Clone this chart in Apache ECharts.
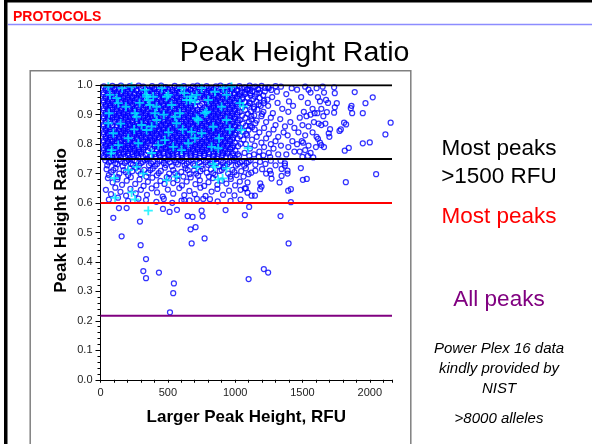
<!DOCTYPE html>
<html><head><meta charset="utf-8">
<script src="https://cdn.jsdelivr.net/npm/echarts@6/dist/echarts.min.js"></script>
<style>html,body{margin:0;padding:0;background:#fff}#c{width:592px;height:444px}</style>
</head><body><div id="c"></div>
<script>
// ---- data (RFU of larger peak, peak height ratio) ----
const xTickLabels = ['0','500','1000','1500','2000'];
const refLevels = [1.0, 0.75, 0.6, 0.217];
const refColors = ['#000000','#000000','#ff0000','#800080'];

const denseCircles = [
[25,.996],[55,.991],[88,.998],[119,.994],[152,.999],[186,.992],[217,.997],[250,.993],[284,.999],[318,.995],[350,.990],[383,.997],[417,.993],[450,.999],[484,.994],[517,.991],[551,.998],[585,.993],[618,.997],[652,.991],[686,.996],[720,.999],[753,.993],[788,.997],[822,.991],[857,.996],[891,.999],[926,.994],[960,.998],[995,.992],[1032,.997],[1070,.993],[1108,.999],[1150,.995],[1196,.998],[1245,.993],[1300,.997],
[38,.984],[72,.979],[104,.985],[136,.980],[170,.983],[203,.978],[236,.986],[268,.981],[301,.977],[334,.984],[367,.980],[400,.986],[434,.979],[468,.983],[501,.987],[534,.978],[568,.982],[601,.986],[635,.979],[669,.984],[703,.980],[737,.985],[771,.978],[805,.983],[839,.987],[873,.979],[908,.984],[942,.980],[977,.986],[1013,.981],[1050,.977],[1089,.984],[1128,.980],[1172,.985],[1220,.979],[1268,.984],
[22,.969],[54,.965],[87,.971],[120,.966],[153,.970],[186,.964],[219,.972],[252,.967],[285,.963],[318,.970],[351,.966],[384,.972],[417,.965],[451,.969],[484,.973],[517,.964],[551,.968],[584,.972],[618,.965],[652,.970],[686,.966],[720,.971],[754,.964],[788,.969],[822,.973],[856,.965],[890,.970],[925,.966],[960,.972],[996,.967],[1034,.963],[1074,.970],[1115,.965],[1160,.971],[1208,.966],
[37,.956],[70,.951],[103,.958],[136,.953],[169,.957],[202,.950],[235,.956],[268,.952],[301,.958],[334,.953],[368,.949],[401,.956],[434,.952],[467,.958],[500,.954],[534,.950],[567,.957],[601,.952],[635,.958],[669,.951],[703,.955],[737,.959],[771,.952],[805,.956],[839,.950],[873,.957],[907,.953],[942,.958],[977,.951],[1014,.956],[1052,.952],[1092,.958],[1135,.953],[1182,.957],[1240,.951],
[24,.942],[56,.938],[89,.944],[121,.939],[154,.943],[187,.937],[220,.945],[253,.940],[286,.936],[319,.943],[352,.939],[385,.945],[418,.938],[452,.942],[485,.946],[518,.937],[552,.941],[585,.945],[619,.938],[653,.943],[687,.939],[721,.944],[755,.937],[789,.942],[823,.946],[857,.938],[891,.943],[926,.939],[961,.945],[997,.940],[1033,.936],[1072,.943],[1113,.938],[1158,.944],[1212,.939],
[40,.929],[72,.924],[105,.931],[138,.926],[171,.930],[204,.923],[237,.929],[270,.925],[303,.931],[336,.926],[369,.922],[402,.929],[435,.925],[468,.931],[501,.927],[535,.923],[568,.930],[602,.925],[636,.931],[670,.924],[704,.928],[738,.932],[772,.925],[806,.929],[840,.923],[874,.930],[908,.926],[943,.931],[979,.924],[1016,.929],[1055,.925],[1096,.931],[1140,.926],[1190,.930],
[23,.915],[55,.911],[88,.917],[120,.912],[153,.916],[186,.910],[219,.918],[252,.913],[285,.909],[318,.916],[351,.912],[384,.918],[417,.911],[451,.915],[484,.919],[517,.910],[551,.914],[584,.918],[618,.911],[652,.916],[686,.912],[720,.917],[754,.910],[788,.915],[822,.919],[856,.911],[890,.916],[925,.912],[960,.918],[996,.913],[1034,.909],[1075,.916],[1118,.911],[1165,.917],
[39,.901],[71,.896],[104,.903],[137,.898],[170,.902],[203,.895],[236,.901],[269,.897],[302,.903],[335,.898],[368,.894],[401,.901],[434,.897],[467,.903],[500,.899],[534,.895],[567,.902],[601,.897],[635,.903],[669,.896],[703,.900],[737,.904],[771,.897],[805,.901],[839,.895],[873,.902],[907,.898],[942,.903],[978,.896],[1015,.901],[1053,.897],[1095,.903],[1142,.898],[1200,.902],
[24,.888],[56,.884],[89,.890],[121,.885],[154,.889],[187,.883],[220,.891],[253,.886],[286,.882],[319,.889],[352,.885],[385,.891],[418,.884],[452,.888],[485,.892],[518,.883],[552,.887],[585,.891],[619,.884],[653,.889],[687,.885],[721,.890],[755,.883],[789,.888],[823,.892],[857,.884],[891,.889],[926,.885],[961,.891],[997,.886],[1035,.882],[1076,.889],[1120,.884],
[40,.874],[72,.869],[105,.876],[138,.871],[171,.875],[204,.868],[237,.874],[270,.870],[303,.876],[336,.871],[369,.867],[402,.874],[435,.870],[468,.876],[501,.872],[535,.868],[568,.875],[602,.870],[636,.876],[670,.869],[704,.873],[738,.877],[772,.870],[806,.874],[840,.868],[874,.875],[908,.871],[943,.876],[979,.869],[1017,.874],[1058,.870],[1102,.876],[1150,.871],
[23,.861],[55,.857],[88,.863],[120,.858],[153,.862],[186,.856],[219,.864],[252,.859],[285,.855],[318,.862],[351,.858],[384,.864],[417,.857],[451,.861],[484,.865],[517,.856],[551,.860],[584,.864],[618,.857],[652,.862],[686,.858],[720,.863],[754,.856],[788,.861],[822,.865],[856,.857],[890,.862],[925,.858],[960,.864],[996,.859],[1036,.855],[1080,.862],[1125,.857],
[39,.847],[71,.842],[104,.849],[137,.844],[170,.848],[203,.841],[236,.847],[269,.843],[302,.849],[335,.844],[368,.840],[401,.847],[434,.843],[467,.849],[500,.845],[534,.841],[567,.848],[601,.843],[635,.849],[669,.842],[703,.846],[737,.850],[771,.843],[805,.847],[839,.841],[873,.848],[907,.844],[942,.849],[978,.842],[1016,.847],[1057,.843],[1100,.849],
[24,.834],[56,.830],[89,.836],[121,.831],[154,.835],[187,.829],[220,.837],[253,.832],[286,.828],[319,.835],[352,.831],[385,.837],[418,.830],[452,.834],[485,.838],[518,.829],[552,.833],[585,.837],[619,.830],[653,.835],[687,.831],[721,.836],[755,.829],[789,.834],[823,.838],[857,.830],[891,.835],[926,.831],[961,.837],[997,.832],[1038,.828],[1082,.835],
[40,.820],[72,.815],[105,.822],[138,.817],[171,.821],[204,.814],[237,.820],[270,.816],[303,.822],[336,.817],[369,.813],[402,.820],[435,.816],[468,.822],[501,.818],[535,.814],[568,.821],[602,.816],[636,.822],[670,.815],[704,.819],[738,.823],[772,.816],[806,.820],[840,.814],[874,.821],[908,.817],[943,.822],[979,.815],[1018,.820],[1062,.816],
[23,.807],[55,.803],[88,.809],[120,.804],[153,.808],[186,.802],[219,.810],[252,.805],[285,.801],[318,.808],[351,.804],[384,.810],[417,.803],[451,.807],[484,.811],[517,.802],[551,.806],[584,.810],[618,.803],[652,.808],[686,.804],[720,.809],[754,.802],[788,.807],[822,.811],[856,.803],[890,.808],[925,.804],[960,.810],[998,.805],[1040,.801],
[39,.793],[71,.788],[104,.795],[137,.790],[170,.794],[203,.787],[236,.793],[269,.789],[302,.795],[335,.790],[368,.786],[401,.793],[434,.789],[467,.795],[500,.791],[534,.787],[567,.794],[601,.789],[635,.795],[669,.788],[703,.792],[737,.796],[771,.789],[805,.793],[839,.787],[873,.794],[907,.790],[942,.795],[980,.788],[1022,.793],
[24,.780],[56,.776],[89,.782],[121,.777],[154,.781],[187,.775],[220,.783],[253,.778],[286,.774],[319,.781],[352,.777],[385,.783],[418,.776],[452,.780],[485,.784],[518,.775],[552,.779],[585,.783],[619,.776],[653,.781],[687,.777],[721,.782],[755,.775],[789,.780],[823,.784],[857,.776],[891,.781],[926,.777],[963,.783],[1002,.778],
[40,.766],[72,.762],[105,.768],[138,.763],[171,.767],[204,.761],[237,.766],[270,.762],[303,.768],[336,.763],[369,.760],[402,.766],[435,.762],[468,.768],[501,.764],[535,.760],[568,.767],[602,.762],[636,.768],[670,.761],[704,.765],[738,.769],[772,.762],[806,.766],[840,.760],[874,.767],[908,.763],[943,.768],[981,.761],[1020,.766],
[28,.755],[90,.753],[150,.756],[215,.752],[280,.755],[345,.751],[410,.756],[475,.753],[540,.755],[605,.752],[670,.756],[735,.753],[800,.755],[865,.751],[930,.756],[995,.753]
];

const denseCirclesFill = [
[41,.989],[74,.986],[105,.990],[137,.987],[170,.991],[203,.985],[235,.989],[267,.986],[300,.990],[334,.987],[367,.984],[400,.990],[433,.986],[467,.991],[500,.987],[534,.984],[568,.990],[601,.986],[635,.991],[669,.985],[703,.989],[737,.992],[770,.986],[805,.990],[840,.984],[874,.989],[908,.992],[943,.987],[978,.990],[1012,.985],[1050,.990],[1090,.987],[1130,.992],[1172,.988],[1222,.991],
[22,.976],[55,.972],[88,.977],[121,.973],[153,.976],[187,.971],[220,.978],[252,.974],[285,.970],[318,.977],[351,.973],[384,.978],[417,.972],[451,.976],[485,.979],[518,.971],[551,.975],[585,.979],[619,.972],[652,.977],[686,.973],[720,.978],[754,.971],[788,.976],[822,.979],[856,.972],[891,.977],[925,.973],[960,.978],[996,.974],[1032,.970],[1072,.977],[1112,.973],
[38,.962],[71,.958],[104,.964],[137,.959],[170,.963],[203,.957],[236,.962],[269,.958],[302,.964],[335,.959],[368,.956],[401,.962],[434,.958],[468,.964],[501,.960],[535,.956],[568,.963],[602,.958],[636,.964],[670,.957],[704,.961],[738,.965],[772,.958],[806,.962],[840,.956],[874,.963],[908,.959],[943,.964],[979,.957],[1015,.962],[1055,.958],
[22,.949],[54,.945],[87,.951],[120,.946],[153,.950],[186,.944],[219,.951],[252,.947],[285,.943],[318,.950],[351,.946],[384,.951],[417,.944],[451,.948],[484,.952],[517,.944],[551,.948],[584,.952],[618,.945],[652,.950],[686,.946],[788,.949],[822,.952],[856,.945],[890,.950],[925,.946],[960,.951],[996,.947],[1036,.943],
[39,.935],[71,.931],[104,.937],[137,.932],[170,.936],[203,.930],[236,.935],[269,.931],[302,.937],[335,.932],[368,.929],[401,.935],[434,.931],[467,.937],[500,.933],[534,.929],[567,.936],[601,.931],[635,.937],[669,.930],[805,.935],[839,.929],[873,.936],[907,.932],[942,.937],[978,.930],[1015,.935],
[23,.922],[55,.918],[88,.924],[120,.919],[153,.923],[186,.917],[219,.924],[252,.920],[285,.916],[318,.923],[351,.919],[384,.924],[417,.917],[451,.921],[484,.925],[517,.917],[551,.921],[584,.925],[618,.918],[652,.923],[686,.919],[754,.917],[788,.922],[822,.925],[856,.918],[890,.923],[925,.919],[960,.924],[998,.920],
[40,.908],[72,.904],[105,.910],[138,.905],[171,.909],[204,.903],[237,.908],[270,.904],[303,.910],[336,.905],[369,.902],[402,.908],[435,.904],[468,.910],[501,.906],[535,.902],[568,.909],[602,.904],[636,.910],[670,.903],[704,.907],[738,.911],[772,.904],[806,.908],[840,.902],[874,.909],[908,.905],[943,.910],[979,.903],[1018,.908],
[23,.895],[55,.891],[88,.897],[120,.892],[153,.896],[186,.890],[219,.897],[252,.893],[285,.889],[318,.896],[351,.892],[384,.897],[417,.890],[451,.894],[484,.898],[517,.890],[551,.894],[584,.898],[618,.891],[652,.896],[686,.892],[720,.897],[754,.890],[788,.895],[822,.898],[856,.891],[890,.896],[925,.892],[960,.897],[998,.893],
[40,.881],[72,.877],[105,.883],[138,.878],[171,.882],[204,.876],[237,.881],[270,.877],[303,.883],[336,.878],[369,.875],[402,.881],[435,.877],[468,.883],[501,.879],[535,.875],[568,.882],[602,.877],[636,.883],[670,.876],[704,.880],[738,.884],[772,.877],[806,.881],[840,.875],[874,.882],[908,.878],[943,.883],[979,.876],[1020,.881],
[23,.867],[55,.863],[120,.864],[153,.868],[186,.862],[219,.869],[252,.865],[285,.861],[318,.868],[351,.864],[384,.869],[417,.862],[451,.866],[484,.870],[517,.862],[551,.866],[584,.870],[618,.863],[652,.868],[686,.864],[720,.869],[754,.862],[788,.867],[822,.870],[856,.863],[890,.868],[925,.864],[960,.869],[1000,.865],
[40,.854],[72,.850],[138,.851],[171,.855],[204,.849],[237,.854],[270,.850],[303,.856],[336,.851],[369,.848],[402,.854],[435,.850],[468,.856],[501,.852],[535,.848],[568,.855],[602,.850],[636,.856],[670,.849],[704,.853],[738,.857],[772,.850],[806,.854],[840,.848],[874,.855],[908,.851],[943,.856],[980,.849],[1022,.854],
[23,.841],[55,.837],[88,.843],[120,.838],[153,.842],[186,.836],[219,.843],[252,.839],[285,.835],[318,.842],[351,.838],[384,.843],[417,.836],[451,.840],[484,.844],[517,.836],[551,.840],[584,.844],[618,.837],[652,.842],[686,.838],[720,.843],[754,.836],[788,.841],[822,.844],[856,.837],[890,.842],[925,.838],[962,.843],[1002,.839],
[40,.827],[72,.823],[105,.829],[138,.824],[171,.828],[204,.822],[237,.827],[270,.823],[303,.829],[336,.824],[369,.821],[402,.827],[435,.823],[468,.829],[501,.825],[535,.821],[568,.828],[602,.823],[636,.829],[670,.822],[704,.826],[738,.830],[772,.823],[806,.827],[840,.821],[874,.828],[908,.824],[945,.829],[985,.822],
[23,.813],[55,.809],[88,.815],[120,.810],[153,.814],[186,.808],[219,.815],[252,.811],[285,.807],[318,.814],[351,.810],[384,.815],[417,.808],[451,.812],[484,.816],[517,.808],[551,.812],[584,.816],[618,.809],[652,.814],[686,.810],[720,.815],[754,.808],[788,.813],[822,.816],[856,.809],[890,.814],[925,.810],[962,.815],
[40,.800],[72,.796],[105,.802],[138,.797],[171,.801],[204,.795],[237,.800],[270,.796],[303,.802],[336,.797],[402,.800],[435,.796],[468,.802],[501,.798],[535,.794],[568,.801],[602,.796],[636,.802],[670,.795],[704,.799],[738,.803],[772,.796],[806,.800],[840,.794],[874,.801],[908,.797],[945,.802],[985,.795],
[23,.787],[55,.783],[88,.789],[120,.784],[153,.788],[186,.782],[219,.789],[252,.785],[285,.781],[318,.788],[417,.782],[451,.786],[484,.790],[517,.782],[551,.786],[584,.790],[618,.783],[652,.788],[686,.784],[720,.789],[754,.782],[788,.787],[822,.790],[856,.783],[890,.788],[925,.784],[965,.789],
[40,.773],[72,.769],[105,.775],[138,.770],[171,.774],[204,.768],[237,.773],[270,.769],[303,.775],[435,.769],[468,.775],[501,.771],[535,.767],[568,.774],[602,.769],[636,.775],[670,.768],[704,.772],[738,.776],[772,.769],[806,.773],[840,.767],[874,.774],[908,.770],[945,.775],[985,.768],
[23,.760],[58,.758],[120,.759],[185,.757],[250,.760],[315,.758],[380,.759],[445,.757],[510,.760],[575,.758],[640,.759],[705,.757],[770,.760],[835,.758],[900,.759],[965,.757],[1030,.760]
];

const upperRightCircles = [
[1110,.985],[1145,.962],[1180,.975],[1215,.948],[1250,.99],[1275,.96],[1310,.978],[1340,.995],[1105,.94],[1140,.92],[1175,.935],[1210,.91],[1245,.93],[1280,.905],[1315,.94],[1350,.92],
[1120,.895],[1160,.88],[1195,.895],[1230,.875],[1265,.89],[1300,.865],[1335,.885],[1370,.86],[1110,.862],[1145,.85],[1180,.84],[1215,.855],[1250,.835],[1285,.85],[1320,.825],[1360,.84],
[1090,.83],[1125,.815],[1160,.825],[1195,.805],[1230,.82],[1265,.8],[1300,.81],[1340,.795],[1080,.8],[1110,.785],[1145,.795],[1180,.775],[1215,.79],[1250,.77],[1285,.785],[1320,.765],
[1070,.77],[1105,.76],[1140,.765],[1175,.757],[1210,.762],[1260,.756],[1380,.97],[1400,.945],[1420,.99],[1395,.91],[1430,.93],[1410,.875],[1440,.855],[1390,.83],[1425,.81],[1395,.79],[1440,.775],[1380,.765],
[1460,.985],[1490,.96],[1520,.995],[1545,.985],[1560,.975],[1540,.94],[1575,.92],[1510,.91],[1480,.89],[1530,.895],[1560,.9],[1590,.905],[1500,.865],[1545,.86],[1585,.875],[1470,.84],[1520,.83],[1575,.84],
[1495,.81],[1460,.8],[1505,.805],[1545,.795],[1480,.775],[1520,.78],[1560,.77],[1500,.757],[1540,.76],[1580,.755],[1605,.99],[1615,.96],[1630,.945],[1650,.995],[1660,.975],[1640,.92],[1610,.905],
[1655,.895],[1620,.87],[1640,.865],[1670,.87],[1605,.825],[1615,.818],[1630,.805],[1640,.797],[1600,.79],[1660,.79],[1675,.95],[1690,.94],
[1735,.993],[1740,.973],[1888,.977],[2022,.959],[1968,.939],[1755,.939],[1740,.925],[1864,.93],[1859,.922],[1869,.905],[1948,.905],[1735,.907],[1681,.909],[1809,.873],[1824,.867],[2155,.873],
[2116,.833],[2000,.806],[1948,.803],[1775,.845],[1785,.85],[1705,.851],[1695,.837],[1700,.825],[1844,.787],[1814,.778]
];

const midCircles = [
[35,.745],[62,.738],[95,.746],[125,.732],[150,.742],[180,.736],[210,.747],[240,.73],[268,.741],[300,.735],[330,.746],[360,.728],[392,.74],[420,.733],[455,.745],[485,.729],[515,.739],[548,.746],[575,.731],[608,.742],[640,.734],[672,.745],[700,.727],[735,.738],[765,.746],[798,.73],[830,.741],[862,.735],[895,.745],[925,.728],[958,.739],[990,.746],[1020,.732],[1050,.742],[1085,.736],[1115,.745],[1150,.73],[1185,.74],[1225,.733],[1265,.744],[1300,.728],[1337,.744],[1370,.735],
[50,.728],[78,.742],[110,.735],[138,.748],[165,.725],[195,.742],[225,.733],[255,.745],[285,.727],[315,.74],[345,.748],[375,.735],[405,.726],[438,.742],[470,.736],[500,.748],[530,.725],[562,.738],[592,.746],[625,.728],[655,.74],[688,.733],[718,.747],[750,.726],[782,.739],[815,.734],[848,.747],[878,.725],[910,.738],[942,.732],[975,.744],[1005,.727],[1035,.738],[1068,.727],[1100,.74],
[45,.715],[80,.705],[112,.718],[140,.7],[172,.712],[205,.695],[236,.708],[265,.72],[298,.698],[325,.713],[355,.703],[388,.717],[418,.694],[448,.709],[478,.72],[510,.7],[540,.712],[570,.692],[600,.706],[632,.718],[662,.698],[695,.711],[725,.693],[758,.716],[790,.703],[820,.714],[852,.696],[885,.709],[915,.72],[948,.7],[980,.713],[1010,.695],[1045,.708],[1080,.718],[1120,.703],[1150,.71],[1200,.715],[1230,.7],[1258,.71],[1265,.699],[1270,.683],[1345,.716],[1369,.727],[1389,.71],[1389,.70],[1345,.692],[1488,.719],
[62,.695],[95,.712],[128,.688],[188,.705],[220,.718],[280,.708],[340,.69],[370,.712],[432,.702],[492,.688],[555,.702],[615,.69],[648,.712],[710,.7],[742,.708],[805,.69],[838,.702],[900,.712],[965,.69],[995,.705],[1062,.69],[1100,.698],
[55,.685],[90,.67],[125,.68],[160,.662],[195,.676],[225,.688],[258,.665],[290,.68],[320,.658],[352,.672],[385,.686],[415,.66],[445,.675],[475,.665],[508,.684],[540,.668],[572,.678],[605,.66],[640,.673],[670,.687],[705,.664],[738,.677],[770,.658],[802,.671],[835,.685],[868,.662],[900,.676],[935,.666],[968,.682],[1000,.66],[1035,.673],[1072,.65],[1092,.67],[1186,.667],[1186,.647],[1196,.656],[1330,.67],[1503,.679],[1532,.682],[1822,.671],[2047,.698],
[40,.645],[78,.63],[110,.652],[148,.638],[190,.625],[222,.648],[262,.633],[300,.645],[345,.628],[380,.65],[420,.636],[462,.622],[500,.646],[540,.632],[585,.651],[622,.627],[660,.641],[700,.63],[742,.652],[780,.624],[825,.639],[868,.648],[910,.628],[955,.642],[995,.626],[1040,.645],[1092,.635],[1122,.625],[1147,.625],[1394,.642],[1414,.647],[1080,.65],
[62,.612],[130,.618],[205,.607],[282,.615],[338,.61],[415,.604],[470,.614],[533,.601],[602,.608],[622,.61],[662,.609],[716,.614],[763,.614],[813,.613],[870,.606],[966,.607],[1040,.612],[1414,.603]
];

const lowCircles = [
[137,.583],[194,.583],[95,.55],[293,.537],[464,.58],[513,.57],[568,.577],[647,.556],[684,.553],[751,.574],[758,.555],[929,.576],[1072,.559],[1104,.587],[669,.511],[706,.518],[157,.487],[298,.457],[677,.463],[773,.48],
[338,.41],[318,.369],[338,.345],[434,.364],[545,.327],[540,.294],[516,.229],[1100,.342],[1213,.376],[1245,.364],[1397,.463],[1337,.556]
];

const crossPoints = [
[58,.995],[70,.967],[120,.956],[63,.905],[58,.871],[95,.837],[231,.995],[256,.905],[268,.893],[330,.984],[342,.967],[355,.95],[367,.933],[392,.961],[404,.905],[305,.865],[342,.848],[380,.86],[417,.882],
[491,.961],[503,.967],[528,.933],[553,.893],[565,.871],[602,.99],[622,.973],[639,.95],[676,.961],[701,.944],[714,.967],[751,.99],[775,.905],[726,.882],[676,.842],[701,.82],[751,.837],[652,.803],
[850,.978],[912,.99],[936,.967],[899,.927],[973,.995],[825,.791],[874,.786],[429,.797],[479,.814],[281,.803],[206,.82],[132,.797],[83,.78],[540,.791],[602,.78],
[132,.939],[189,.927],[343,.961],[417,.927],[590,.905],[664,.95],[714,.888],[788,.91],[837,.859],[936,.882],[1035,.939],[1060,.928],[1047,.848],[1097,.786],
[160,.99],[290,.94],[455,.99],[470,.9],[610,.85],[505,.84],[250,.85],[150,.87],[800,.95],[960,.85],[880,.82],[380,.77],
[79,.769],[108,.618],[231,.636],[268,.723],[207,.712],[355,.574],[491,.678],[565,.69],[714,.723],[850,.723],[907,.684],[102,.685],[256,.612],[318,.70],[874,.68],[936,.718],[837,.732]
];

const noteLines = ['Power Plex 16 data','kindly provided by','NIST','>8000 alleles'];

// ---- chart ----
const X_MAX = 2165;
const chart = echarts.init(document.getElementById('c'), null, {renderer:'canvas'});
const circleStyle = {color:'rgba(0,0,0,0)', borderColor:'#0000ff', borderWidth:1.25};
const allCircles = denseCircles.concat(denseCirclesFill, upperRightCircles, midCircles, lowCircles);
const refSeries = refLevels.map((lv, i) => ({
  type:'line', data:[[0, lv],[X_MAX, lv]], symbol:'none', silent:true, z:5,
  lineStyle:{color:refColors[i], width:2}, animation:false
}));
const f = 'Arial, "Liberation Sans", sans-serif';
chart.setOption({
  animation:false,
  backgroundColor:'#ffffff',
  grid:{left:100.5, right:200, top:85.25, bottom:64.25, containLabel:false},
  xAxis:{
    type:'value', min:0, max:X_MAX, interval:100,
    axisLine:{show:true, lineStyle:{color:'#000', width:1}},
    axisTick:{show:true, inside:false, length:3, lineStyle:{color:'#000'}},
    splitLine:{show:false},
    axisLabel:{color:'#222', fontSize:11, fontFamily:f, margin:8,
      formatter:v => (v % 500 === 0 && xTickLabels.indexOf(String(v)) >= 0) ? String(v) : ''},
    name:'Larger Peak Height, RFU', nameLocation:'middle', nameGap:29,
    nameTextStyle:{fontSize:17, fontWeight:'bold', color:'#000', fontFamily:f}
  },
  yAxis:{
    type:'value', min:0, max:1, interval:0.1,
    axisLine:{show:true, lineStyle:{color:'#000', width:1}},
    axisTick:{show:true, length:5, lineStyle:{color:'#000'}},
    minorTick:{show:true, splitNumber:5, length:3, lineStyle:{color:'#000'}},
    splitLine:{show:false},
    axisLabel:{color:'#222', fontSize:11, fontFamily:f, margin:8, formatter:v => v.toFixed(1)},
    name:'Peak Height Ratio', nameLocation:'middle', nameGap:31,
    nameTextStyle:{fontSize:17, fontWeight:'bold', color:'#000', fontFamily:f, padding:[0,0,0,24]}
  },
  series:[
    {type:'scatter', data:allCircles, symbol:'circle', symbolSize:5, itemStyle:circleStyle, silent:true, z:2},
    {type:'scatter', data:crossPoints, symbol:'path://M4,0H6V4H10V6H6V10H4V6H0V4H4Z', symbolSize:9,
      itemStyle:{color:'#00f0ff'}, silent:true, z:3}
  ].concat(refSeries),
  graphic:[
    {type:'rect', left:4, top:0, shape:{width:588, height:2.5}, style:{fill:'#000'}, silent:true},
    {type:'rect', left:4, top:0, shape:{width:3.5, height:444}, style:{fill:'#000'}, silent:true},
    {type:'line', shape:{x1:8, y1:24.5, x2:592, y2:24.5}, style:{stroke:'#8c8cff', lineWidth:1.5}, silent:true},
    {type:'text', left:13, top:10.5, style:{text:'PROTOCOLS', fill:'#ff0000', font:'bold 14px ' + f}, silent:true},
    {type:'text', x:294.5, y:52.7, style:{text:'Peak Height Ratio', fill:'#000', font:'28.5px ' + f, align:'center', verticalAlign:'middle'}, silent:true},
    {type:'rect', shape:{x:30.2, y:70.7, width:380.6, height:400}, style:{fill:'none', stroke:'#808080', lineWidth:1.5}, silent:true, z:-1},
    {type:'text', x:499, y:148.7, style:{text:'Most peaks', fill:'#000', font:'22.5px ' + f, align:'center', verticalAlign:'middle'}, silent:true},
    {type:'text', x:499, y:176.3, style:{text:'>1500 RFU', fill:'#000', font:'22.5px ' + f, align:'center', verticalAlign:'middle'}, silent:true},
    {type:'text', x:499, y:217.2, style:{text:'Most peaks', fill:'#ff0000', font:'22.5px ' + f, align:'center', verticalAlign:'middle'}, silent:true},
    {type:'text', x:499, y:300.2, style:{text:'All peaks', fill:'#800080', font:'22.5px ' + f, align:'center', verticalAlign:'middle'}, silent:true},
    {type:'text', x:499, y:349.3, style:{text:noteLines[0], fill:'#000', font:'italic 15px ' + f, align:'center', verticalAlign:'middle'}, silent:true},
    {type:'text', x:499, y:368.5, style:{text:noteLines[1], fill:'#000', font:'italic 15px ' + f, align:'center', verticalAlign:'middle'}, silent:true},
    {type:'text', x:499, y:388.5, style:{text:noteLines[2], fill:'#000', font:'italic 15px ' + f, align:'center', verticalAlign:'middle'}, silent:true},
    {type:'text', x:499, y:418.5, style:{text:noteLines[3], fill:'#000', font:'italic 15px ' + f, align:'center', verticalAlign:'middle'}, silent:true}
  ]
});
</script></body></html>
